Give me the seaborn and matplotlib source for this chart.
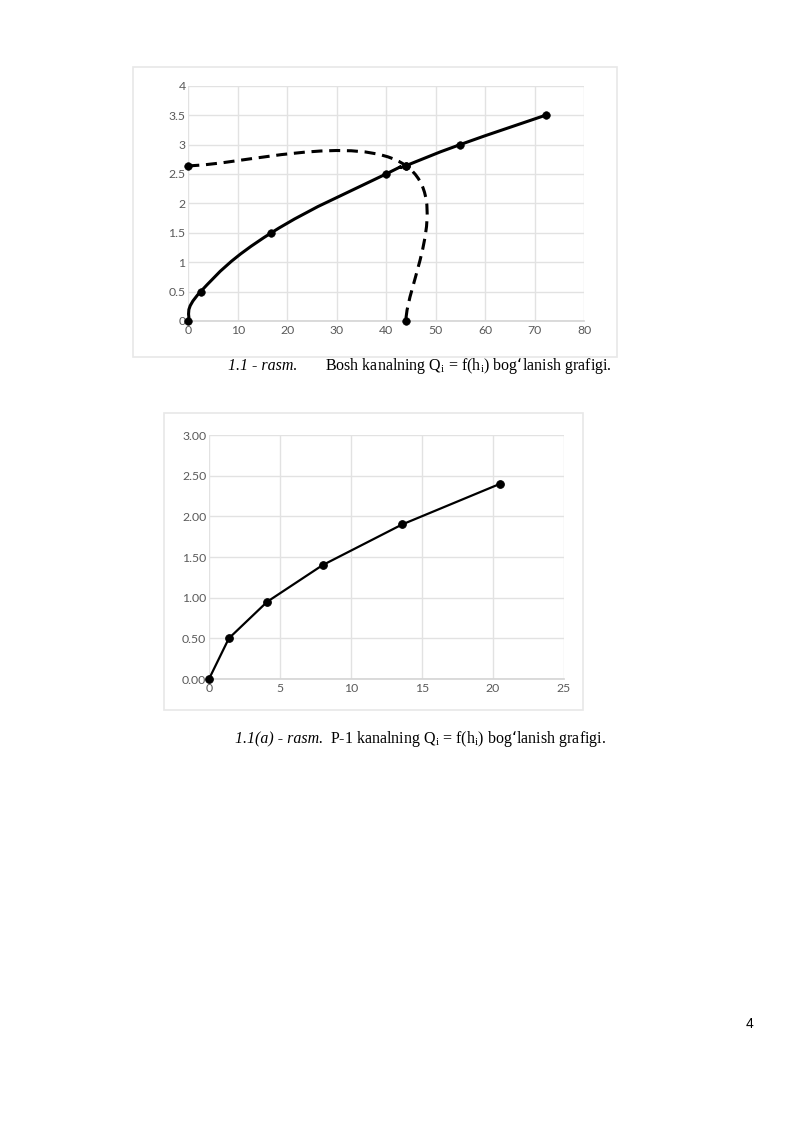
import numpy as np
import matplotlib
matplotlib.use("Agg")
import matplotlib.pyplot as plt
import seaborn as sns
from matplotlib.path import Path
from matplotlib.patches import PathPatch, Rectangle

# ---- data ----
# 1.1 - Bosh kanal
h_main = [0, 2.5, 16.8, 40, 44, 55, 72.3]
q_main = [0, 0.5, 1.5, 2.5, 2.64, 3.0, 3.5]
h_dash = [0, 44, 44]
q_dash = [2.64, 2.64, 0]
x1_ticks = [0, 10, 20, 30, 40, 50, 60, 70, 80]
y1_ticks = [0, 0.5, 1, 1.5, 2, 2.5, 3, 3.5, 4]
y1_labels = ["0", "0.5", "1", "1.5", "2", "2.5", "3", "3.5", "4"]

# 1.1(a) - P-1 kanal
h_p1 = [0, 1.4, 4.1, 8.0, 13.6, 20.5]
q_p1 = [0, 0.5, 0.95, 1.4, 1.9, 2.4]
x2_ticks = [0, 5, 10, 15, 20, 25]
y2_ticks = [0, 0.5, 1.0, 1.5, 2.0, 2.5, 3.0]
y2_labels = ["0.00", "0.50", "1.00", "1.50", "2.00", "2.50", "3.00"]

W, H = 800, 1131
sns.set_theme(style="white")
plt.rcParams["font.family"] = ["Lato", "DejaVu Sans"]

fig = plt.figure(figsize=(W / 100, H / 100), dpi=100)
fig.patch.set_facecolor("white")


def fx(x):
    return x / W


def fy(y):
    return 1 - y / H


def add_ax(x0, y0, x1, y1):
    # pixel box (left, top, right, bottom) -> axes
    return fig.add_axes([fx(x0), fy(y1), (x1 - x0) / W, (y1 - y0) / H])


def frame(x0, y0, x1, y1):
    fig.patches.append(Rectangle((fx(x0), fy(y1)), (x1 - x0) / W, (y1 - y0) / H,
                                 transform=fig.transFigure, fill=False,
                                 edgecolor="#e8e8e8", lw=1.2, zorder=0))


def smooth_path(ax, xs, ys, k=0.22):
    # excel-like smoothed line, built in screen space
    pts = ax.transData.transform(np.column_stack([xs, ys]))
    n = len(pts)
    verts = [pts[0]]
    codes = [Path.MOVETO]
    for i in range(n - 1):
        p0 = pts[max(i - 1, 0)]
        p1 = pts[i]
        p2 = pts[i + 1]
        p3 = pts[min(i + 2, n - 1)]
        c1 = p1 + (p2 - p0) * k
        c2 = p2 - (p3 - p1) * k
        verts += [c1, c2, p2]
        codes += [Path.CURVE4] * 3
    verts = ax.transData.inverted().transform(np.array(verts))
    return Path(verts, codes)


def style_ax(ax, xt, yt, ylab, xlim, ylim):
    ax.set_xlim(*xlim)
    ax.set_ylim(*ylim)
    ax.set_xticks(xt)
    ax.set_yticks(yt)
    ax.set_yticklabels(ylab)
    ax.grid(True, color="#e2e2e2", lw=1.0)
    ax.set_axisbelow(True)
    for s in ["top", "right", "left"]:
        ax.spines[s].set_visible(False)
    ax.spines["bottom"].set_color("#d6d6d6")
    ax.tick_params(axis="both", length=0, labelsize=8.8, labelcolor="#5a5a5a", pad=3)
    ax.tick_params(axis="y", pad=2)
    ax.set_xlabel("")
    ax.set_ylabel("")
    ax.set_facecolor("none")


# ---- chart 1 ----
frame(133, 67, 617, 357)
ax1 = add_ax(188.3, 85.7, 584, 321)
style_ax(ax1, x1_ticks, y1_ticks, y1_labels, (0, 80), (0, 4))
ax1.add_patch(PathPatch(smooth_path(ax1, h_main, q_main), fill=False,
                        edgecolor="black", lw=2.2, zorder=3, clip_on=False))
ax1.add_patch(PathPatch(smooth_path(ax1, h_dash, q_dash), fill=False,
                        edgecolor="black", lw=2.2, ls=(0, (3.6, 2.2)), zorder=3,
                        clip_on=False))
sns.scatterplot(x=h_main, y=q_main, ax=ax1, color="black", s=30,
                edgecolor="black", zorder=4, clip_on=False)
sns.scatterplot(x=h_dash, y=q_dash, ax=ax1, color="black", s=30,
                edgecolor="black", zorder=4, clip_on=False)

# ---- chart 2 ----
frame(164, 413, 583, 710)
ax2 = add_ax(209, 435, 564, 679)
style_ax(ax2, x2_ticks, y2_ticks, y2_labels, (0, 25), (0, 3))
sns.lineplot(x=h_p1, y=q_p1, ax=ax2, color="black", lw=1.6, marker="o",
             markersize=5.5, markeredgecolor="black", sort=False,
             estimator=None, zorder=3, clip_on=False)

# ---- captions ----
serif = ["Liberation Serif", "DejaVu Serif"]
fig.text(fx(228), fy(370), "1.1 - rasm.", family=serif, style="italic",
         fontsize=11.5, va="baseline", ha="left", color="black")
fig.text(fx(325), fy(370),
         r"Bosh kanalning Q$_\mathregular{i}$ = f(h$_\mathregular{i}$) bog‘lanish grafigi.",
         family=serif, fontsize=11.5, va="baseline", ha="left", color="black")
fig.text(fx(235), fy(743), "1.1(a) - rasm.", family=serif, style="italic",
         fontsize=11.5, va="baseline", ha="left", color="black")
fig.text(fx(330), fy(743),
         r"P-1 kanalning Q$_\mathregular{i}$ = f(h$_\mathregular{i}$) bog‘lanish grafigi.",
         family=serif, fontsize=11.5, va="baseline", ha="left", color="black")

fig.text(fx(749), fy(1024), "4", family=["Liberation Sans", "DejaVu Sans"],
         fontsize=10, ha="center", va="center", color="black")

fig.savefig("out.png", dpi=100, facecolor="white")
